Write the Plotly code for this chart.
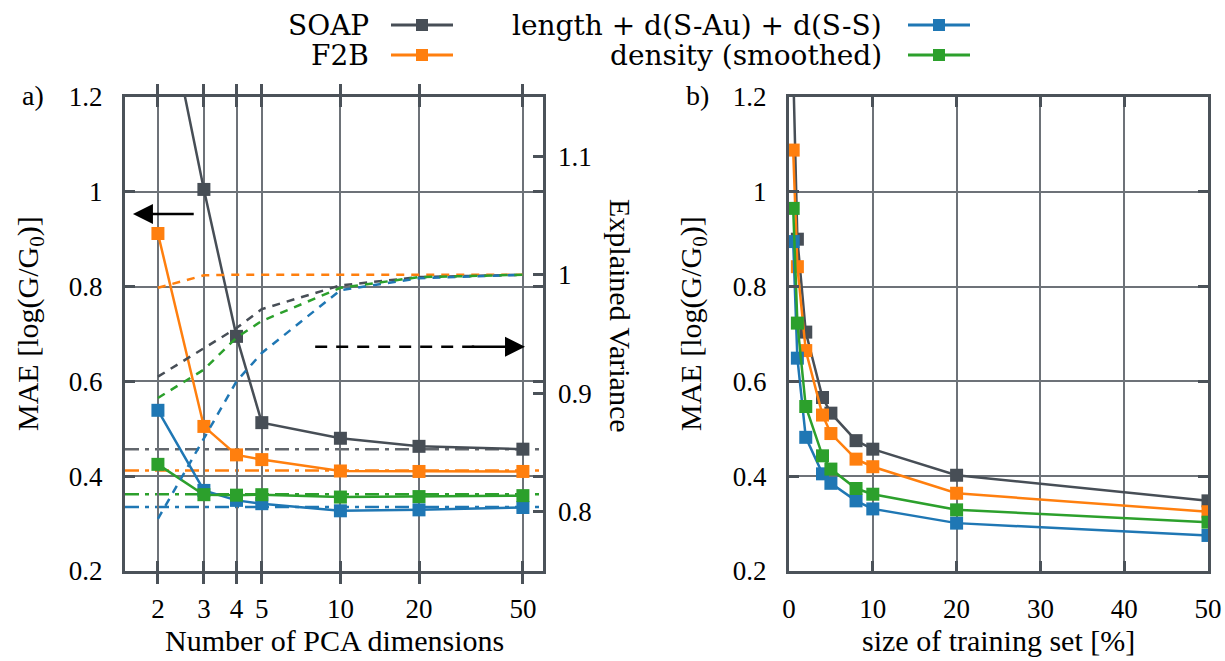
import numpy as np
import plotly.graph_objects as go

# ---- data ----
series_names = ["SOAP", "F2B", "length + d(S-Au) + d(S-S)", "density (smoothed)"]
series_colors = ["#474e56", "#ff7f0e", "#1f77b4", "#2ca02c"]

# a) MAE vs number of PCA dimensions
pca_dims = [2, 3, 4, 5, 10, 20, 50]
pca_ticks = ["2", "3", "4", "5", "10", "20", "50"]
mae_soap = [1.48, 1.005, 0.695, 0.513, 0.480, 0.463, 0.457]
mae_f2b = [0.912, 0.505, 0.445, 0.435, 0.411, 0.410, 0.410]
mae_len = [0.539, 0.370, 0.349, 0.342, 0.327, 0.329, 0.334]
mae_dens = [0.425, 0.361, 0.360, 0.361, 0.356, 0.357, 0.359]
# MAE without PCA (dash-dot reference lines)
mae_full = [0.457, 0.412, 0.335, 0.362]

# explained variance (right axis of a)
ev_soap = [0.914, 0.938, 0.955, 0.971, 0.991, 0.998, 1.0]
ev_f2b = [0.989, 0.9995, 1.0, 1.0, 1.0, 1.0, 1.0]
ev_len = [0.794, 0.862, 0.910, 0.934, 0.987, 0.997, 1.0]
ev_dens = [0.896, 0.920, 0.947, 0.961, 0.989, 0.998, 1.0]

# b) MAE vs size of training set
train_pct = [0.5, 1, 2, 4, 5, 8, 10, 20, 50]
tr_soap = [1.26, 0.900, 0.704, 0.566, 0.533, 0.475, 0.457, 0.402, 0.348]
tr_f2b = [1.088, 0.842, 0.665, 0.529, 0.490, 0.436, 0.420, 0.364, 0.325]
tr_len = [0.895, 0.649, 0.482, 0.405, 0.385, 0.348, 0.331, 0.301, 0.275]
tr_dens = [0.965, 0.723, 0.547, 0.443, 0.415, 0.374, 0.362, 0.329, 0.303]

mae_pca = [mae_soap, mae_f2b, mae_len, mae_dens]
ev_pca = [ev_soap, ev_f2b, ev_len, ev_dens]
mae_train = [tr_soap, tr_f2b, tr_len, tr_dens]

FRAME = "#4b5259"
GRID = "#6d7278"
FONT = "Liberation Serif"
KEYFONT = "DejaVu Serif"

fig = go.Figure()

# explained variance (dashed, right axis)
for name, col, ev in zip(series_names, series_colors, ev_pca):
    fig.add_trace(go.Scatter(x=pca_dims, y=ev, mode="lines", xaxis="x", yaxis="y2",
                             line=dict(color=col, width=2.5, dash="8px,7px"),
                             showlegend=False, hoverinfo="skip"))

for name, col, ys in zip(series_names, series_colors, mae_pca):
    fig.add_trace(go.Scatter(x=pca_dims, y=ys, mode="lines+markers", xaxis="x", yaxis="y",
                             line=dict(color=col, width=2.5),
                             marker=dict(symbol="square", size=13, color=col),
                             name=name, showlegend=False))

for name, col, ys in zip(series_names, series_colors, mae_train):
    fig.add_trace(go.Scatter(x=train_pct, y=ys, mode="lines+markers", xaxis="x3", yaxis="y3",
                             line=dict(color=col, width=2.5),
                             marker=dict(symbol="square", size=13, color=col),
                             name=name, showlegend=False))

# dash-dot reference lines (full descriptor)
ref_colors = ["#62676d", "#ff7f0e", "#1f77b4", "#2ca02c"]
for col, v in zip(ref_colors, mae_full):
    fig.add_shape(type="line", xref="x domain", yref="y", x0=0, x1=1, y0=v, y1=v,
                  line=dict(color=col, width=2.5, dash="14px,6px,4px,6px"), layer="below")

# arrows telling which axis belongs to which curves
fig.add_annotation(xref="x domain", yref="y", axref="x domain", ayref="y",
                   x=0.019, y=0.953, ax=0.168, ay=0.953,
                   showarrow=True, arrowhead=2, arrowsize=1.6, arrowwidth=2.5,
                   arrowcolor="black", text="")
fig.add_shape(type="line", xref="x domain", yref="y", x0=0.455, x1=0.85, y0=0.673, y1=0.673,
              line=dict(color="black", width=2.5, dash="12px,9px"))
fig.add_annotation(xref="x domain", yref="y", axref="x domain", ayref="y",
                   x=0.957, y=0.673, ax=0.826, ay=0.673,
                   showarrow=True, arrowhead=2, arrowsize=1.6, arrowwidth=2.5,
                   arrowcolor="black", text="")

axis_common = dict(showline=True, linecolor=FRAME, linewidth=3, mirror="allticks",
                   ticks="inside", ticklen=10, tickwidth=3, tickcolor=FRAME,
                   showgrid=True, gridcolor=GRID, gridwidth=1.5, zeroline=False,
                   automargin=False,
                   tickfont=dict(family=FONT, size=27, color="black"))

xl = (125 / 1225, 543 / 1225)
xr = (789 / 1225, 1208 / 1225)
yd = (90 / 661, 564 / 661)

fig.update_layout(
    width=1225, height=661,
    margin=dict(l=0, r=0, t=0, b=0, pad=0, autoexpand=False),
    paper_bgcolor="white", plot_bgcolor="white",
    font=dict(family=FONT, size=27, color="black"),
    showlegend=False,
    xaxis=dict(axis_common, type="log", domain=xl, anchor="y",
               range=[np.log10(1.496), np.log10(59.7)],
               tickvals=pca_dims, ticktext=pca_ticks, ticklabelstandoff=12),
    yaxis=dict(axis_common, domain=yd, anchor="x", range=[0.2, 1.2], dtick=0.2,
               tick0=0.2, ticklabelstandoff=14),
    yaxis2=dict(overlaying="y", side="right", anchor="x", range=[0.75, 1.15],
                tickvals=[0.8, 0.9, 1.0, 1.1], ticktext=["0.8", "0.9", "1", "1.1"],
                ticks="inside", ticklen=10, tickwidth=3, tickcolor=FRAME,
                showgrid=False, zeroline=False, showline=False, ticklabelstandoff=14,
                automargin=False,
                tickfont=dict(family=FONT, size=27, color="black")),
    xaxis3=dict(axis_common, domain=xr, anchor="y3", range=[0, 50], dtick=10,
                ticklabelstandoff=12),
    yaxis3=dict(axis_common, domain=yd, anchor="x3", range=[0.2, 1.2], dtick=0.2,
                tick0=0.2, ticklabelstandoff=14),
)

# axis titles and panel labels
texts = [
    dict(text="Number of PCA dimensions", x=(xl[0] + xl[1]) / 2, y=(661 - 640) / 661, textangle=0),
    dict(text="size of training set [%]", x=(xr[0] + xr[1]) / 2, y=(661 - 640) / 661, textangle=0),
    dict(text="MAE [log(G/G<sub>0</sub>)]", x=30 / 1225, y=(661 - 324) / 661, textangle=-90),
    dict(text="MAE [log(G/G<sub>0</sub>)]", x=693 / 1225, y=(661 - 324) / 661, textangle=-90),
    dict(text="Explained Variance", x=621 / 1225, y=(661 - 316) / 661, textangle=90),
]
for t in texts:
    fig.add_annotation(xref="paper", yref="paper", x=t["x"], y=t["y"], text=t["text"],
                       textangle=t["textangle"], showarrow=False,
                       xanchor="center", yanchor="middle",
                       font=dict(family=FONT, size=30, color="black"))
for lab, px in [("a)", 33), ("b)", 697)]:
    fig.add_annotation(xref="paper", yref="paper", x=px / 1225, y=(661 - 96) / 661, text=lab,
                       showarrow=False, xanchor="center", yanchor="middle",
                       font=dict(family=FONT, size=28, color="black"))

# gnuplot-style key: text right-aligned, sample after the text
key_rows = [(25, 371, 391, 453), (55, 371, 391, 453), (25, 884, 908, 970), (55, 884, 908, 970)]
for name, col, (py, tx, s0, s1) in zip(series_names, series_colors, key_rows):
    yp = (661 - py) / 661
    fig.add_annotation(xref="paper", yref="paper", x=tx / 1225, y=yp, text=name,
                       showarrow=False, xanchor="right", yanchor="middle",
                       font=dict(family=KEYFONT, size=28, color="black"))
    fig.add_shape(type="line", xref="paper", yref="paper", x0=s0 / 1225, x1=s1 / 1225,
                  y0=yp, y1=yp, line=dict(color=col, width=3))
    mx = (s0 + s1) / 2
    fig.add_shape(type="rect", xref="paper", yref="paper",
                  x0=(mx - 6) / 1225, x1=(mx + 6) / 1225, y0=yp - 6 / 661, y1=yp + 6 / 661,
                  line=dict(width=0), fillcolor=col)

fig.write_html("out.html", config={"displayModeBar": False},
               post_script="document.body.style.margin='0px';document.body.style.overflow='hidden';")
